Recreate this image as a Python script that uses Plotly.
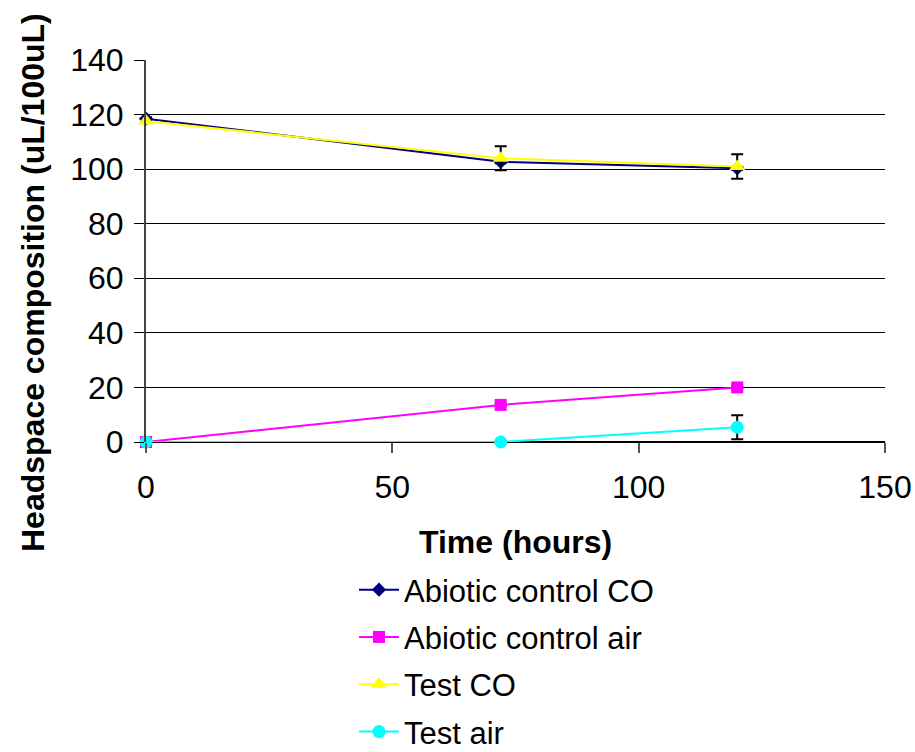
import plotly.graph_objects as go

time_h = [0, 72, 120]
abiotic_co = [118.5, 102.7, 100.3]
abiotic_co_err = [0.5, 0.5, 0.5]
abiotic_air = [0.0, 13.6, 20.0]
abiotic_air_err = [0.4, 0.5, 0.4]
test_co = [117.6, 104.0, 101.0]
test_co_err = [0.5, 4.4, 4.5]
test_air = [0.0, 0.0, 5.4]
test_air_err = [0.3, 0.3, 4.4]

names = ["Abiotic control CO", "Abiotic control air", "Test CO", "Test air"]
series = [abiotic_co, abiotic_air, test_co, test_air]
errs = [abiotic_co_err, abiotic_air_err, test_co_err, test_air_err]
colors = ["#000080", "#FF00FF", "#FFFF00", "#00FFFF"]
symbols = ["diamond", "square", "triangle-up", "circle"]
sizes = [11, 12, 14, 13]

fig = go.Figure()
for i in range(4):
    fig.add_trace(go.Scatter(
        x=time_h, y=series[i], name=names[i], mode="lines+markers",
        line=dict(color=colors[i], width=2),
        marker=dict(color=colors[i], symbol=symbols[i], size=sizes[i]),
        error_y=dict(type="data", array=errs[i], visible=True,
                     color="black", thickness=2, width=6),
        legendgroup=f"g{i}", cliponaxis=False,
    ))

font_family = "Liberation Sans, Arial, sans-serif"
fig.update_layout(
    width=915, height=752,
    margin=dict(l=146, r=30, t=60, b=310, autoexpand=False),
    plot_bgcolor="white", paper_bgcolor="white",
    font=dict(family=font_family, size=32, color="black"),
    showlegend=True,
    legend=dict(
        xref="container", yref="container",
        x=354 / 915, y=1 - 563 / 752, xanchor="left", yanchor="top",
        orientation="v", traceorder="grouped", tracegroupgap=4,
        font=dict(size=31), itemwidth=40,
        bgcolor="rgba(0,0,0,0)",
    ),
    xaxis=dict(
        range=[0, 150], tickvals=[0, 50, 100, 150],
        showgrid=False, zeroline=False,
        showline=False, ticks="outside", ticklen=10, tickcolor="#555",
        tickwidth=2, ticklabelstandoff=7,
    ),
    yaxis=dict(
        range=[0, 140], tickvals=[0, 20, 40, 60, 80, 100, 120, 140],
        showgrid=True, gridcolor="black", gridwidth=1,
        zeroline=True, zerolinecolor="black", zerolinewidth=1.5,
        showline=True, linecolor="#444", linewidth=2,
        ticks="outside", ticklen=10, tickcolor="black",
        ticklabelstandoff=4,
    ),
    annotations=[
        dict(text="<b>Time (hours)</b>", xref="paper", yref="paper",
             x=0.5, y=(442 - 542) / 382, xanchor="center", yanchor="middle",
             showarrow=False, font=dict(size=32)),
        dict(text="<b>Headspace composition (uL/100uL)</b>", xref="paper", yref="paper",
             x=(33 - 146) / 739, y=(442 - 283) / 382, xanchor="center", yanchor="middle",
             textangle=-90, showarrow=False, font=dict(size=32)),
    ],
)
fig.write_html("out.html")
